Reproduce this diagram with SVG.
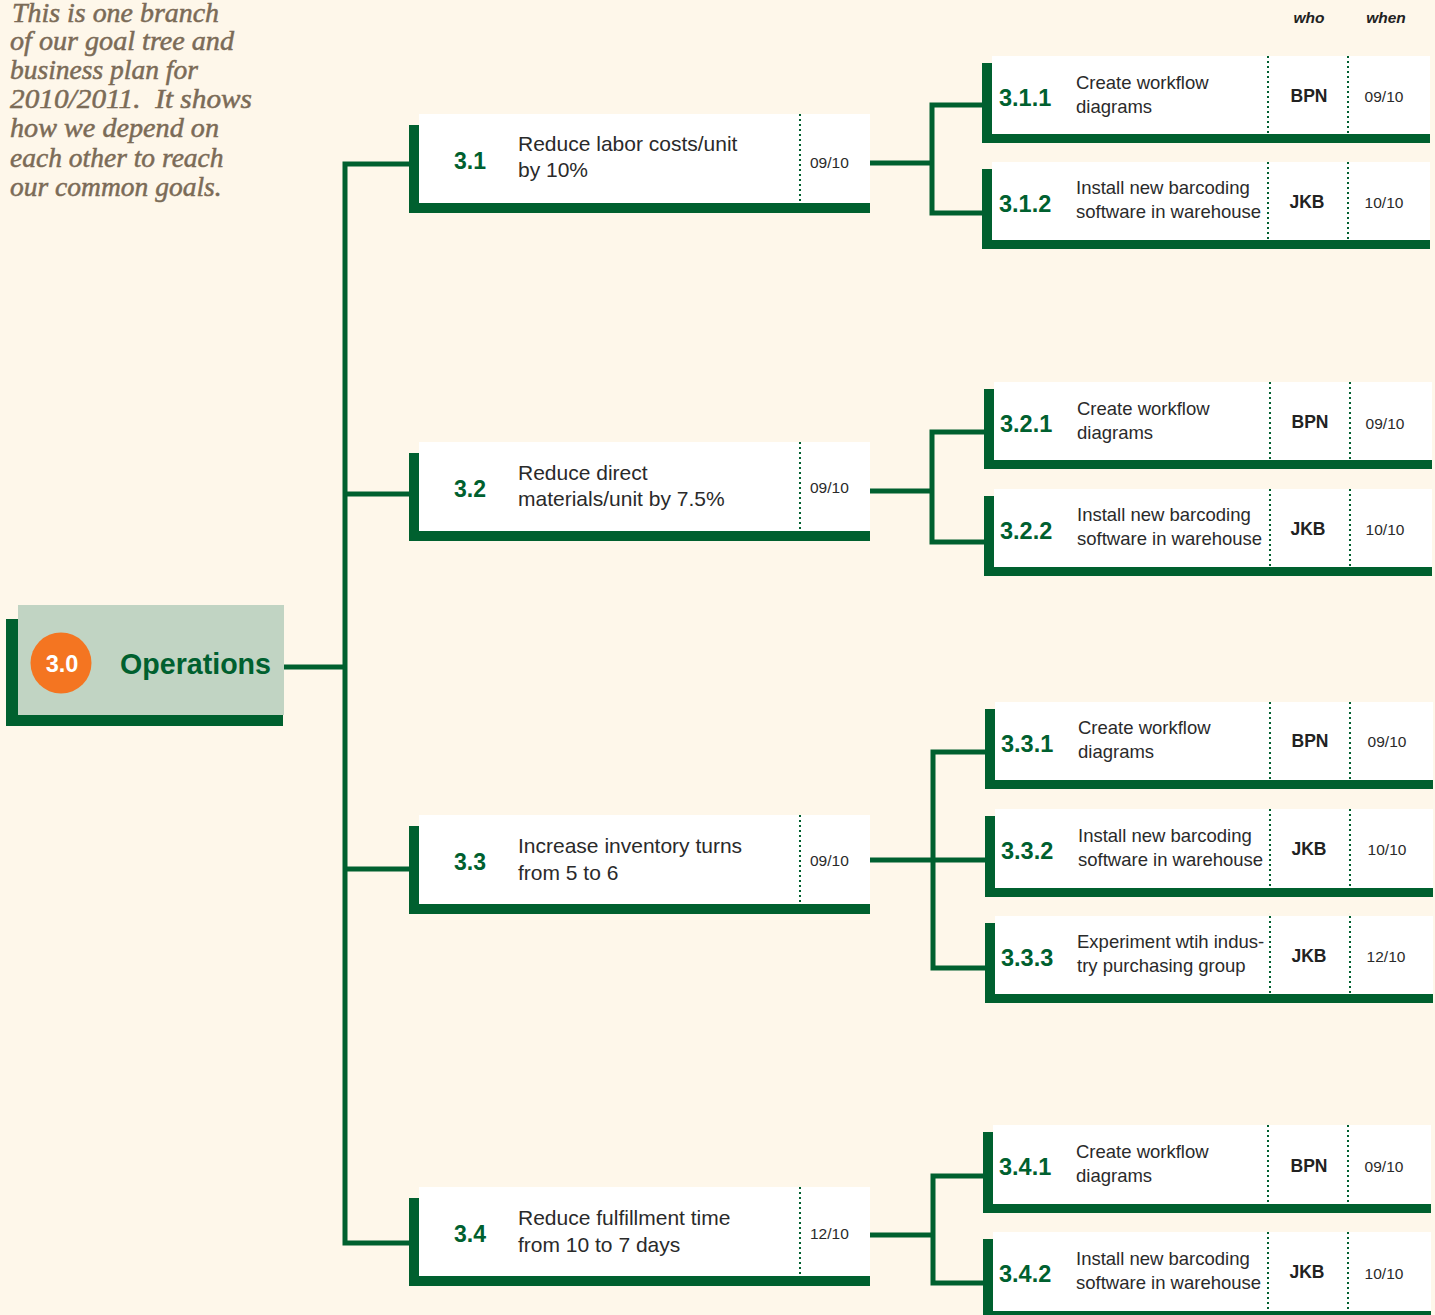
<svg xmlns="http://www.w3.org/2000/svg" width="1435" height="1315" viewBox="0 0 1435 1315">
<style>
.bg{fill:#fef7ea}
.g{fill:#00602f}
.w{fill:#ffffff}
.dot{stroke:#00602f;stroke-width:2;stroke-dasharray:2 3;fill:none}
.con{stroke:#00602f;stroke-width:5;fill:none;stroke-linejoin:miter}
.intro{font-family:"Liberation Serif",serif;font-style:italic;font-size:27.5px;fill:#7b6b57;stroke:#7b6b57;stroke-width:0.5}
.hdr{font-family:"Liberation Sans",Arial,sans-serif;font-style:italic;font-weight:bold;font-size:15.5px;fill:#222;text-anchor:middle}
.n2{font-family:"Liberation Sans",Arial,sans-serif;font-weight:bold;font-size:23px;fill:#00602f}
.t2{font-family:"Liberation Sans",Arial,sans-serif;font-size:21px;fill:#2a2a2a}
.d2{font-family:"Liberation Sans",Arial,sans-serif;font-size:15.5px;fill:#2a2a2a}
.n3{font-family:"Liberation Sans",Arial,sans-serif;font-weight:bold;font-size:23.5px;fill:#00602f}
.t3{font-family:"Liberation Sans",Arial,sans-serif;font-size:18.5px;fill:#2a2a2a}
.who{font-family:"Liberation Sans",Arial,sans-serif;font-weight:bold;font-size:17.5px;fill:#222;text-anchor:middle}
.when{font-family:"Liberation Sans",Arial,sans-serif;font-size:15.5px;fill:#2a2a2a;text-anchor:middle}
</style>
<rect class="bg" x="0" y="0" width="1435" height="1315"/>

<g id="intro">
<text class="intro" x="12" y="22" textLength="207" lengthAdjust="spacingAndGlyphs">This is one branch</text>
<text class="intro" x="10" y="50" textLength="224" lengthAdjust="spacingAndGlyphs">of our goal tree and</text>
<text class="intro" x="10" y="79">business plan for</text>
<text class="intro" x="10" y="108" textLength="242" lengthAdjust="spacingAndGlyphs" xml:space="preserve">2010/2011.  It shows</text>
<text class="intro" x="10" y="137" textLength="209" lengthAdjust="spacingAndGlyphs">how we depend on</text>
<text class="intro" x="10" y="167">each other to reach</text>
<text class="intro" x="10" y="196">our common goals.</text>
</g>

<g id="headers">
<text class="hdr" x="1309" y="23">who</text>
<text class="hdr" x="1386" y="23">when</text>
</g>

<g id="connectors">
<path class="con" d="M284 667 H345"/>
<path class="con" d="M409 164 H345 V1243 H409"/>
<path class="con" d="M345 494 H409"/>
<path class="con" d="M345 869 H409"/>
<path class="con" d="M870 163 H932"/>
<path class="con" d="M982 105 H932 V213 H982"/>
<path class="con" d="M870 491 H932"/>
<path class="con" d="M984 432 H932 V542 H984"/>
<path class="con" d="M870 860 H985"/>
<path class="con" d="M985 752 H933 V968 H985"/>
<path class="con" d="M870 1235 H933"/>
<path class="con" d="M983 1176 H933 V1283 H983"/>
</g>

<g id="n3-0">
<rect class="g" x="6" y="619" width="277" height="107"/>
<rect x="18" y="605" width="266" height="110" fill="#c1d4c3"/>
<circle cx="61" cy="663" r="30.5" fill="#f47521"/>
<text x="62" y="672" font-family="Liberation Sans, Arial, sans-serif" font-weight="bold" font-size="23.5px" fill="#ffffff" text-anchor="middle">3.0</text>
<text x="120" y="674" font-family="Liberation Sans, Arial, sans-serif" font-weight="bold" font-size="29.5px" fill="#00602f" textLength="151" lengthAdjust="spacingAndGlyphs">Operations</text>
</g>

<g id="n3-1" transform="translate(409,114)">
<rect class="g" x="0" y="11" width="10" height="88"/>
<rect class="g" x="0" y="89" width="461" height="10"/>
<rect class="w" x="10" y="0" width="451" height="89"/>
<line class="dot" x1="391" y1="0" x2="391" y2="89"/>
<text class="n2" x="45" y="55">3.1</text>
<text class="t2" x="109" y="37">Reduce labor costs/unit</text>
<text class="t2" x="109" y="63">by 10%</text>
<text class="d2" x="401" y="54">09/10</text>
</g>

<g id="n3-2" transform="translate(409,442)">
<rect class="g" x="0" y="11" width="10" height="88"/>
<rect class="g" x="0" y="89" width="461" height="10"/>
<rect class="w" x="10" y="0" width="451" height="89"/>
<line class="dot" x1="391" y1="0" x2="391" y2="89"/>
<text class="n2" x="45" y="55">3.2</text>
<text class="t2" x="109" y="38">Reduce direct</text>
<text class="t2" x="109" y="64">materials/unit by 7.5%</text>
<text class="d2" x="401" y="51">09/10</text>
</g>

<g id="n3-3" transform="translate(409,815)">
<rect class="g" x="0" y="11" width="10" height="88"/>
<rect class="g" x="0" y="89" width="461" height="10"/>
<rect class="w" x="10" y="0" width="451" height="89"/>
<line class="dot" x1="391" y1="0" x2="391" y2="89"/>
<text class="n2" x="45" y="55">3.3</text>
<text class="t2" x="109" y="38">Increase inventory turns</text>
<text class="t2" x="109" y="65">from 5 to 6</text>
<text class="d2" x="401" y="51">09/10</text>
</g>

<g id="n3-4" transform="translate(409,1187)">
<rect class="g" x="0" y="11" width="10" height="88"/>
<rect class="g" x="0" y="89" width="461" height="10"/>
<rect class="w" x="10" y="0" width="451" height="89"/>
<line class="dot" x1="391" y1="0" x2="391" y2="89"/>
<text class="n2" x="45" y="55">3.4</text>
<text class="t2" x="109" y="38">Reduce fulfillment time</text>
<text class="t2" x="109" y="65">from 10 to 7 days</text>
<text class="d2" x="401" y="52">12/10</text>
</g>

<g id="n3-1-1" transform="translate(982,56)">
<rect class="g" x="0" y="7" width="10" height="80"/>
<rect class="g" x="0" y="78" width="448" height="9"/>
<rect class="w" x="10" y="0" width="438" height="78"/>
<line class="dot" x1="286" y1="0" x2="286" y2="78"/>
<line class="dot" x1="366" y1="0" x2="366" y2="78"/>
<text class="n3" x="17" y="50">3.1.1</text>
<text class="t3" x="94" y="33">Create workflow</text>
<text class="t3" x="94" y="57">diagrams</text>
<text class="who" x="327" y="46">BPN</text>
<text class="when" x="402" y="46">09/10</text>
</g>

<g id="n3-1-2" transform="translate(982,162)">
<rect class="g" x="0" y="7" width="10" height="80"/>
<rect class="g" x="0" y="78" width="448" height="9"/>
<rect class="w" x="10" y="0" width="438" height="78"/>
<line class="dot" x1="286" y1="0" x2="286" y2="78"/>
<line class="dot" x1="366" y1="0" x2="366" y2="78"/>
<text class="n3" x="17" y="50">3.1.2</text>
<text class="t3" x="94" y="32">Install new barcoding</text>
<text class="t3" x="94" y="56">software in warehouse</text>
<text class="who" x="325" y="46">JKB</text>
<text class="when" x="402" y="46">10/10</text>
</g>

<g id="n3-2-1" transform="translate(984,382)">
<rect class="g" x="0" y="7" width="10" height="80"/>
<rect class="g" x="0" y="78" width="448" height="9"/>
<rect class="w" x="10" y="0" width="438" height="78"/>
<line class="dot" x1="286" y1="0" x2="286" y2="78"/>
<line class="dot" x1="366" y1="0" x2="366" y2="78"/>
<text class="n3" x="16" y="50">3.2.1</text>
<text class="t3" x="93" y="33">Create workflow</text>
<text class="t3" x="93" y="57">diagrams</text>
<text class="who" x="326" y="46">BPN</text>
<text class="when" x="401" y="47">09/10</text>
</g>

<g id="n3-2-2" transform="translate(984,489)">
<rect class="g" x="0" y="7" width="10" height="80"/>
<rect class="g" x="0" y="78" width="448" height="9"/>
<rect class="w" x="10" y="0" width="438" height="78"/>
<line class="dot" x1="286" y1="0" x2="286" y2="78"/>
<line class="dot" x1="366" y1="0" x2="366" y2="78"/>
<text class="n3" x="16" y="50">3.2.2</text>
<text class="t3" x="93" y="32">Install new barcoding</text>
<text class="t3" x="93" y="56">software in warehouse</text>
<text class="who" x="324" y="46">JKB</text>
<text class="when" x="401" y="46">10/10</text>
</g>

<g id="n3-3-1" transform="translate(985,702)">
<rect class="g" x="0" y="7" width="10" height="80"/>
<rect class="g" x="0" y="78" width="448" height="9"/>
<rect class="w" x="10" y="0" width="438" height="78"/>
<line class="dot" x1="285" y1="0" x2="285" y2="78"/>
<line class="dot" x1="365" y1="0" x2="365" y2="78"/>
<text class="n3" x="16" y="50">3.3.1</text>
<text class="t3" x="93" y="32">Create workflow</text>
<text class="t3" x="93" y="56">diagrams</text>
<text class="who" x="325" y="45">BPN</text>
<text class="when" x="402" y="45">09/10</text>
</g>

<g id="n3-3-2" transform="translate(985,809)">
<rect class="g" x="0" y="7" width="10" height="80"/>
<rect class="g" x="0" y="79" width="448" height="9"/>
<rect class="w" x="10" y="0" width="438" height="79"/>
<line class="dot" x1="285" y1="0" x2="285" y2="79"/>
<line class="dot" x1="365" y1="0" x2="365" y2="79"/>
<text class="n3" x="16" y="50">3.3.2</text>
<text class="t3" x="93" y="33">Install new barcoding</text>
<text class="t3" x="93" y="57">software in warehouse</text>
<text class="who" x="324" y="46">JKB</text>
<text class="when" x="402" y="46">10/10</text>
</g>

<g id="n3-3-3" transform="translate(985,916)">
<rect class="g" x="0" y="7" width="10" height="80"/>
<rect class="g" x="0" y="78" width="448" height="9"/>
<rect class="w" x="10" y="0" width="438" height="78"/>
<line class="dot" x1="285" y1="0" x2="285" y2="78"/>
<line class="dot" x1="365" y1="0" x2="365" y2="78"/>
<text class="n3" x="16" y="50">3.3.3</text>
<text class="t3" x="92" y="32">Experiment wtih indus-</text>
<text class="t3" x="92" y="56">try purchasing group</text>
<text class="who" x="324" y="46">JKB</text>
<text class="when" x="401" y="46">12/10</text>
</g>

<g id="n3-4-1" transform="translate(983,1125)">
<rect class="g" x="0" y="7" width="10" height="80"/>
<rect class="g" x="0" y="79" width="448" height="9"/>
<rect class="w" x="10" y="0" width="438" height="79"/>
<line class="dot" x1="285" y1="0" x2="285" y2="79"/>
<line class="dot" x1="365" y1="0" x2="365" y2="79"/>
<text class="n3" x="16" y="50">3.4.1</text>
<text class="t3" x="93" y="33">Create workflow</text>
<text class="t3" x="93" y="57">diagrams</text>
<text class="who" x="326" y="47">BPN</text>
<text class="when" x="401" y="47">09/10</text>
</g>

<g id="n3-4-2" transform="translate(983,1232)">
<rect class="g" x="0" y="7" width="10" height="80"/>
<rect class="g" x="0" y="79" width="448" height="9"/>
<rect class="w" x="10" y="0" width="438" height="79"/>
<line class="dot" x1="285" y1="0" x2="285" y2="79"/>
<line class="dot" x1="365" y1="0" x2="365" y2="79"/>
<text class="n3" x="16" y="50">3.4.2</text>
<text class="t3" x="93" y="33">Install new barcoding</text>
<text class="t3" x="93" y="57">software in warehouse</text>
<text class="who" x="324" y="46">JKB</text>
<text class="when" x="401" y="47">10/10</text>
</g>
</svg>
